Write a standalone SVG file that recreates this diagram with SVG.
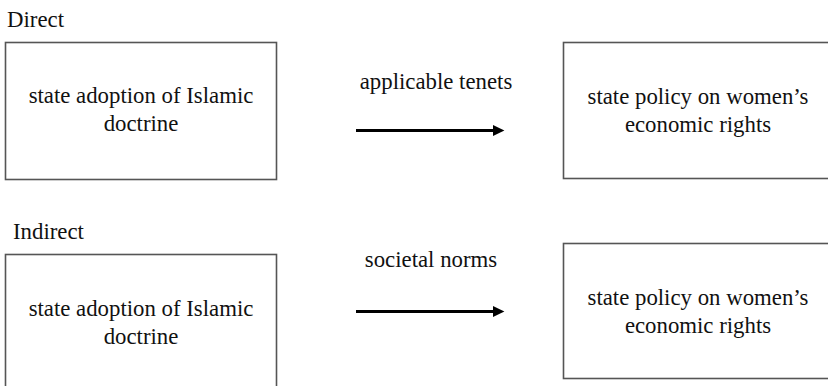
<svg xmlns="http://www.w3.org/2000/svg" width="828" height="386" viewBox="0 0 828 386">
<style>
.box{fill:#fff;stroke:#555;stroke-width:1.6}
text{font-family:"Liberation Serif","Times New Roman",serif;font-size:22.8px;fill:#111}
.c{text-anchor:middle}
.conn{stroke:#000;stroke-width:3;fill:none}
</style>
<defs>
<marker id="ah" markerWidth="4" markerHeight="4" refX="0" refY="2" orient="auto" markerUnits="strokeWidth">
<path d="M0,0.2 L3.8,2 L0,3.8 Z" fill="#000"/>
</marker>
</defs>
<rect width="828" height="386" fill="#fff"/>
<text id="lbl-direct" x="7" y="27">Direct</text>
<text id="lbl-indirect" x="13" y="239">Indirect</text>
<g id="n1">
<rect class="box" x="5.5" y="42.5" width="271" height="137"/>
<text class="c" x="141" y="103">state adoption of Islamic</text>
<text class="c" x="141" y="131">doctrine</text>
</g>
<g id="n2">
<rect class="box" x="563.5" y="42.5" width="270" height="136"/>
<text class="c" x="698" y="104">state policy on women’s</text>
<text class="c" x="698" y="132">economic rights</text>
</g>
<g id="n3">
<rect class="box" x="5.5" y="254.5" width="271" height="140"/>
<text class="c" x="141" y="316">state adoption of Islamic</text>
<text class="c" x="141" y="344">doctrine</text>
</g>
<g id="n4">
<rect class="box" x="563.5" y="243.5" width="270" height="135"/>
<text class="c" x="698" y="305">state policy on women’s</text>
<text class="c" x="698" y="333">economic rights</text>
</g>
<g id="connectors">
<line class="conn" x1="356" y1="130.5" x2="493" y2="130.5" marker-end="url(#ah)"/>
<text class="c" x="436" y="89">applicable tenets</text>
<line class="conn" x1="356" y1="311.5" x2="493" y2="311.5" marker-end="url(#ah)"/>
<text class="c" x="431" y="267">societal norms</text>
</g>
</svg>
